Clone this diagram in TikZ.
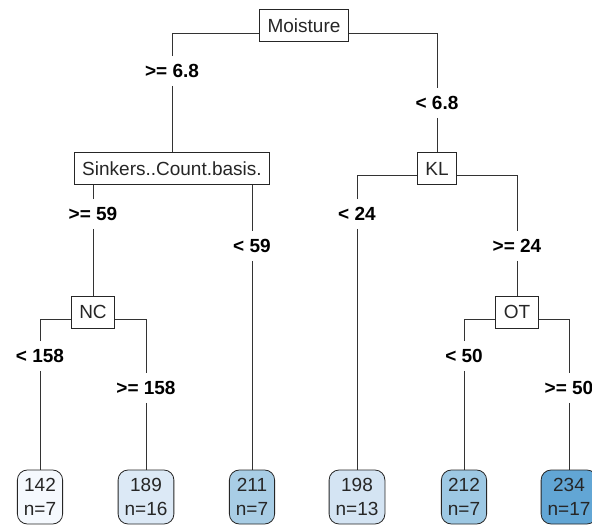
\documentclass[tikz,border=0pt]{standalone}
\usepackage{fontspec}
\setmainfont{Liberation Sans}
\usetikzlibrary{backgrounds}
\definecolor{c142}{HTML}{F5F9FE}
\definecolor{c189}{HTML}{DCE9F6}
\definecolor{c211}{HTML}{A8CDE5}
\definecolor{c198}{HTML}{D4E4F3}
\definecolor{c212}{HTML}{9DC8E3}
\definecolor{c234}{HTML}{62A6D5}
\begin{document}
\begin{tikzpicture}[x=1pt,y=-1pt,
  splitbox/.style={draw=black!85, fill=white, line width=0.8pt, text=black!85,
    font=\fontsize{19}{22}\selectfont, minimum height=32pt, inner xsep=8pt, inner ysep=0pt},
  lab/.style={font=\fontsize{19}{22}\selectfont\bfseries, inner xsep=1pt, inner ysep=8pt, text=black},
  leaf/.style={draw=black!85, line width=0.8pt, rounded corners=10pt, text=black!85,
    font=\fontsize{19}{24}\selectfont, align=center, minimum height=54pt, inner xsep=6.5pt, inner ysep=2pt},
  conn/.style={draw=black!80, line width=0.8pt}]
\useasboundingbox (0,0) rectangle (592,525);
\clip (0,0) rectangle (592,525);
% split nodes
\node[splitbox] (moist) at (304,25.5) {Moisture};
\node[splitbox] (sink) at (172,168.5) {Sinkers..Count.basis.};
\node[splitbox] (kl) at (437,168.5) {KL};
\node[splitbox] (nc) at (93,312) {NC};
\node[splitbox] (ot) at (517,312) {OT};
% labels
\node[lab] (a1) at (172,71) {>= 6.8};
\node[lab] (b1) at (437,103) {< 6.8};
\node[lab] (c1) at (93,214) {>= 59};
\node[lab] (d1) at (252,246) {< 59};
\node[lab] (e1) at (357,214) {< 24};
\node[lab] (f1) at (517,246) {>= 24};
\node[lab] (g1) at (40,356) {< 158};
\node[lab] (h1) at (146,388) {>= 158};
\node[lab] (i1) at (464,356) {< 50};
\node[lab] (j1) at (569,388) {>= 50};
% leaves
\node[leaf, fill=c142] (l1) at (40,497) {142\\n=7};
\node[leaf, fill=c189] (l2) at (146,497) {189\\n=16};
\node[leaf, fill=c211] (l3) at (252,497) {211\\n=7};
\node[leaf, fill=c198] (l4) at (357,497) {198\\n=13};
\node[leaf, fill=c212] (l5) at (464,497) {212\\n=7};
\node[leaf, fill=c234] (l6) at (569,497) {234\\n=17};
% junction points
\coordinate (m1) at (172,33);  \coordinate (m2) at (437,33);
\coordinate (s1) at (93,176);  \coordinate (s2) at (252,176);
\coordinate (k1) at (357,175); \coordinate (k2) at (517,175);
\coordinate (n1) at (40,319);  \coordinate (n2) at (146,319);
\coordinate (o1) at (464,319); \coordinate (o2) at (569,319);
\begin{pgfonlayer}{background}
\draw[conn] (a1.north) -- (m1) -- (m2) -- (b1.north);
\draw[conn] (a1.south) -- (sink.north);
\draw[conn] (b1.south) -- (kl.north);
\draw[conn] (c1.north) -- (s1) -- (s2) -- (d1.north);
\draw[conn] (c1.south) -- (nc.north);
\draw[conn] (d1.south) -- (l3.north);
\draw[conn] (e1.north) -- (k1) -- (k2) -- (f1.north);
\draw[conn] (e1.south) -- (l4.north);
\draw[conn] (f1.south) -- (ot.north);
\draw[conn] (g1.north) -- (n1) -- (n2) -- (h1.north);
\draw[conn] (g1.south) -- (l1.north);
\draw[conn] (h1.south) -- (l2.north);
\draw[conn] (i1.north) -- (o1) -- (o2) -- (j1.north);
\draw[conn] (i1.south) -- (l5.north);
\draw[conn] (j1.south) -- (l6.north);
\end{pgfonlayer}
\end{tikzpicture}
\end{document}
